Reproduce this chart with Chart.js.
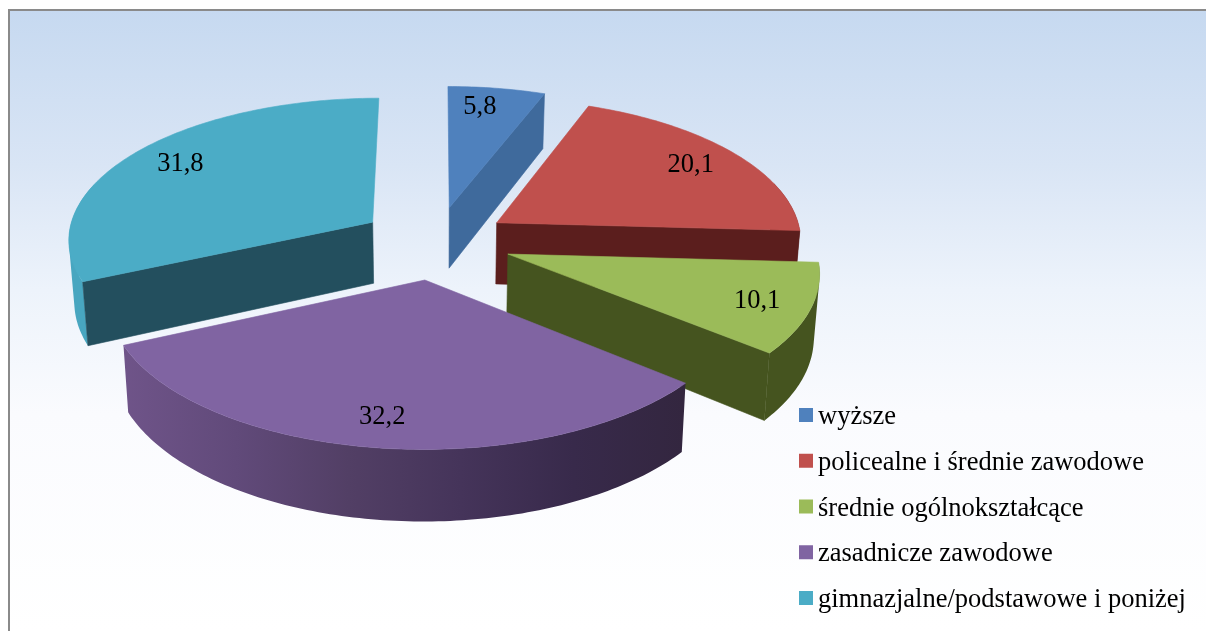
<!DOCTYPE html>
<html lang="pl">
<head>
<meta charset="utf-8">
<title>Wykres</title>
<script src="https://cdn.jsdelivr.net/npm/chart.js@4/dist/chart.umd.js"></script>
<style>html,body{margin:0;padding:0;background:#fff}canvas{display:block}</style>
</head>
<body>
<canvas id="c" width="1206" height="631"></canvas>
<script>
const categories = ['wyższe','policealne i średnie zawodowe','średnie ogólnokształcące','zasadnicze zawodowe','gimnazjalne/podstawowe i poniżej'];
const values = [5.8,20.1,10.1,32.2,31.8];
const topColors = ['#4f81bd','#c0504d','#9bbb59','#8064a2','#4bacc6'];
const cutColors = ['#3f6a9c','#5b1e1d','#45541f','#3a2c4d','#234f5e'];
const wallStops = [
  ['#3f6a9c'],['#5b1e1d'],['#45541f'],
  ['#6f5489','#614a7a','#523f65','#45345a','#382a4b','#33263f'],
  ['#48a6c0']
];
const explode = [0.245,0.24,0.25,0.27,0.25];
const labelNudge = [[-9,-1],[-1,1],[3,2],[-4,3],[3,0]];

// pseudo-3D projection of the pie plane
const view = {cx:436, cy:241, rx:305.7, ry:141.5, depth:62, persp:0.11, taper:0.015};
function project(u,v,z){
  const w = 1 - view.persp*v, s = 1 - view.taper*z;
  return [view.cx + view.rx*u/w*s, view.cy + (view.ry*v + view.depth*z)/w];
}

const pie3d = {
  id:'pie3d',
  beforeDraw(chart){
    const {ctx,width,height} = chart;
    const g = ctx.createLinearGradient(0,10,0,height);
    g.addColorStop(0,'#c6d9f0');
    g.addColorStop(0.25,'#d9e5f5');
    g.addColorStop(0.45,'#edf3fb');
    g.addColorStop(0.65,'#fafbfe');
    g.addColorStop(1,'#ffffff');
    ctx.save();
    ctx.fillStyle='#fff'; ctx.fillRect(0,0,width,height);
    ctx.fillStyle=g; ctx.fillRect(9,10,width-9,height-10);
    ctx.fillStyle='#8a8a8a';
    ctx.fillRect(8,9,2,height-9);
    ctx.fillRect(8,9,width-8,2);
    ctx.restore();
  },
  beforeDatasetDraw(chart,args){
    const ctx = chart.ctx;
    const arcs = chart.getDatasetMeta(args.index).data;
    const order = arcs.map((el,i)=>{
      const mid=(el.startAngle+el.endAngle)/2;
      return {el,i,mid,a:el.startAngle,b:el.endAngle,ou:explode[i]*Math.cos(mid),ov:explode[i]*Math.sin(mid)};
    }).sort((p,q)=>Math.sin(p.mid)-Math.sin(q.mid));
    const trace=(pts)=>{
      pts.forEach((p,k)=>k?ctx.lineTo(p[0],p[1]):ctx.moveTo(p[0],p[1]));
      ctx.closePath();
    };
    const poly=(pts,fill)=>{
      ctx.beginPath();
      trace(pts);
      ctx.fillStyle=fill; ctx.strokeStyle=fill; ctx.lineWidth=0.6;
      ctx.fill(); ctx.stroke();
    };
    const area=(q)=>q.reduce((sum,p,k)=>{const n=q[(k+1)%q.length];return sum+p[0]*n[1]-n[0]*p[1];},0);
    order.forEach(s=>{
      const P=(ang,r,z)=>project(s.ou+r*Math.cos(ang),s.ov+r*Math.sin(ang),z);
      const cut=cutColors[s.i];
      const step=Math.PI/180, up=[],down=[];
      for(let t=s.a;t<=s.b+1e-6;t+=step){
        if(Math.sin(t)>=-0.3){up.push(P(t,1,0));down.push(P(t,1,1));}
      }
      if(Math.sin(s.b)>=-0.3){up.push(P(s.b,1,0));down.push(P(s.b,1,1));}
      if(up.length>1){
        const xs=up.map(p=>p[0]), stops=wallStops[s.i];
        let fill=stops[0];
        if(stops.length>1){
          fill=ctx.createLinearGradient(Math.min(...xs),0,Math.max(...xs),0);
          stops.forEach((c,k)=>fill.addColorStop(k/(stops.length-1),c));
        }
        // the wall folds over itself at the silhouette: one path of like-wound strips
        ctx.beginPath();
        for(let k=1;k<up.length;k++){
          const q=[up[k-1],up[k],down[k],down[k-1]];
          trace(area(q)<0?q.reverse():q);
        }
        ctx.fillStyle=fill;
        ctx.fill('nonzero');
      }
      if(-Math.cos(s.a)>0) poly([P(0,0,0),P(s.a,1,0),P(s.a,1,1),P(0,0,1)],cut);
      if(Math.cos(s.b)>0) poly([P(0,0,0),P(s.b,1,0),P(s.b,1,1),P(0,0,1)],cut);
      // top face
      const top=[P(0,0,0)];
      for(let t=s.a;t<s.b;t+=step) top.push(P(t,1,0));
      top.push(P(s.b,1,0));
      poly(top,s.el.options.backgroundColor);
    });
    return false;
  },
  afterDraw(chart){
    const ctx=chart.ctx;
    const arcs=chart.getDatasetMeta(0).data;
    ctx.save();
    ctx.fillStyle='#000';
    ctx.font='26.5px "Liberation Serif"';
    ctx.textAlign='center';ctx.textBaseline='middle';
    arcs.forEach((el,i)=>{
      const mid=(el.startAngle+el.endAngle)/2, r=explode[i]+0.82;
      const p=project(r*Math.cos(mid),r*Math.sin(mid),0);
      ctx.fillText(values[i].toFixed(1).replace('.',','),p[0]+labelNudge[i][0],p[1]+labelNudge[i][1]);
    });
    ctx.textAlign='left';ctx.textBaseline='alphabetic';
    chart.data.labels.forEach((t,i)=>{
      const y=i*45.75;
      ctx.fillStyle=topColors[i];
      ctx.fillRect(799,408+y,14,14);
      ctx.fillStyle='#000';
      ctx.fillText(t,818,424+y);
    });
    ctx.restore();
  }
};

new Chart(document.getElementById('c'),{
  type:'pie',
  data:{labels:categories,datasets:[{data:values,backgroundColor:topColors,borderWidth:0}]},
  options:{responsive:false,animation:false,
    plugins:{legend:{display:false},tooltip:{enabled:false}}},
  plugins:[pie3d]
});
</script>
</body>
</html>
